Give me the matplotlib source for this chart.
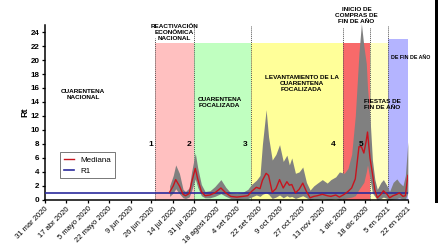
import matplotlib
matplotlib.use("Agg")
import matplotlib.pyplot as plt
import matplotlib.dates as mdates
import numpy as np
from datetime import datetime, timedelta
from matplotlib.patches import Rectangle

plt.rcParams['font.family'] = ['Liberation Sans', 'DejaVu Sans']

# ---- data ----
start = datetime(2020, 3, 31)
day_offsets = [102, 105, 107, 110, 113, 115, 118, 120, 123, 125, 128, 131, 135, 139, 144, 148,
               152, 157, 162, 166, 169, 173, 176, 178, 181, 183, 186, 189, 192, 195, 198, 200,
               202, 205, 208, 211, 214, 217, 220, 223, 227, 231, 234, 238, 241, 245, 248, 251,
               254, 257, 259, 261, 263, 264, 266, 268, 270, 272, 275, 277, 280, 282, 285, 288,
               290, 293, 295, 297]
mediana = [1.1, 2.0, 2.9, 2.0, 0.8, 0.6, 0.9, 2.5, 4.5, 3.0, 1.2, 0.6, 0.7, 1.0, 1.7, 1.0,
           0.5, 0.4, 0.5, 0.6, 1.2, 1.8, 1.6, 2.8, 3.8, 3.5, 1.1, 1.6, 2.9, 1.7, 2.6, 2.1,
           2.2, 1.0, 1.5, 2.4, 1.2, 0.3, 0.5, 0.6, 0.8, 0.6, 0.5, 0.7, 0.4, 0.8, 1.2, 1.7,
           3.0, 7.6, 7.6, 6.7, 8.5, 9.7, 6.0, 3.8, 1.4, 0.3, 0.8, 1.3, 0.8, 0.3, 0.6, 0.8,
           1.0, 0.5, 0.6, 3.5]
superior = [2.0, 3.5, 5.0, 3.8, 1.5, 1.2, 1.7, 4.0, 6.7, 4.6, 2.2, 1.2, 1.3, 1.9, 2.9, 1.8,
            1.0, 0.9, 1.1, 1.5, 2.2, 2.8, 3.5, 8.0, 12.9, 9.0, 5.7, 6.5, 7.9, 5.5, 6.4, 5.0,
            6.0, 3.8, 4.0, 4.7, 2.5, 1.4, 2.0, 2.4, 2.9, 2.4, 2.9, 3.3, 4.0, 3.8, 4.5, 6.5,
            12.0, 21.0, 25.2, 22.0, 19.5, 16.0, 11.9, 5.7, 2.9, 1.5, 2.5, 2.9, 2.0, 1.2, 2.5, 3.0,
            2.5, 2.0, 3.5, 8.3]
inferior = [0.5, 1.0, 1.6, 0.9, 0.3, 0.2, 0.4, 1.3, 3.0, 1.8, 0.6, 0.3, 0.3, 0.5, 0.9, 0.5,
            0.2, 0.1, 0.2, 0.2, 0.4, 0.7, 0.5, 0.8, 1.0, 0.8, 0.2, 0.4, 0.7, 0.3, 0.6, 0.4,
            0.5, 0.2, 0.4, 0.6, 0.3, 0.0, 0.1, 0.1, 0.2, 0.1, 0.1, 0.2, 0.0, 0.2, 0.3, 0.4,
            0.6, 1.5, 2.0, 2.5, 4.0, 5.0, 3.0, 1.0, 0.5, 0.0, 0.2, 0.4, 0.2, 0.0, 0.1, 0.2,
            0.3, 0.1, 0.1, 1.0]
r1_value = 1.0

tick_dates = ["2020-03-31", "2020-04-17", "2020-05-05", "2020-05-22", "2020-06-09", "2020-06-26",
              "2020-07-14", "2020-07-31", "2020-08-18", "2020-09-04", "2020-09-22", "2020-10-09",
              "2020-10-27", "2020-11-13", "2020-12-01", "2020-12-18", "2021-01-05", "2021-01-22"]
tick_labels = ["31 mar 2020", "17 abr 2020", "5 mayo 2020", "22 mayo 2020", "9 jun 2020",
               "26 jun 2020", "14 jul 2020", "31 jul 2020", "18 agost 2020", "4 set 2020",
               "22 set 2020", "9 oct 2020", "27 oct 2020", "13 nov 2020", "1 dic 2020",
               "18 dic 2020", "5 en 2021", "22 en 2021"]

# phases: (start, end, color, top)
phase_starts = ["2020-06-29", "2020-07-31", "2020-09-16", "2020-11-30", "2020-12-22", "2021-01-06"]
phase_ends = ["2020-07-31", "2020-09-16", "2020-11-30", "2020-12-22", "2021-01-06", "2021-01-22"]
phase_colors = ["#FFC0C0", "#C0FFC0", "#FFFF99", "#F86A6A", "#FFFFC0", "#B4B4FF"]
phase_tops = [22.4, 22.4, 22.4, 22.4, 22.4, 23.0]
vline_tops = [23.1, 24.9, 24.9, 24.7, 24.7, 24.9]

phase_texts = ["CUARENTENA\nNACIONAL", "REACTIVACIÓN\nECONÓMICA\nNACIONAL", "CUARENTENA\nFOCALIZADA",
               "LEVANTAMIENTO DE LA\nCUARENTENA\nFOCALIZADA", "INICIO DE\nCOMPRAS DE\nFIN DE AÑO",
               "FIESTAS DE\nFIN DE AÑO", "DE FIN DE AÑO"]
phase_text_x = ["2020-05-01", "2020-07-15", "2020-08-21", "2020-10-27", "2020-12-11", "2021-01-01", "2021-01-24"]
phase_text_y = [15.0, 24.0, 13.9, 16.7, 26.4, 13.6, 20.4]
phase_text_size = [4.6, 4.6, 4.6, 4.6, 4.6, 4.6, 3.8]

marker_nums = ["1", "2", "3", "4", "5"]
marker_x = ["2020-06-26", "2020-07-27", "2020-09-11", "2020-11-22", "2020-12-15"]
marker_y = [7.9, 7.9, 7.9, 7.9, 7.9]

# ---- plot ----
def d(s):
    return mdates.date2num(datetime.strptime(s, "%Y-%m-%d"))

x = [mdates.date2num(start + timedelta(days=o)) for o in day_offsets]

fig = plt.figure(figsize=(4.39, 2.48), dpi=100)
fig.patch.set_facecolor("white")
ax = fig.add_axes([0.1025, 0.194, 0.8265, 0.705])

for s, e, c, t in zip(phase_starts, phase_ends, phase_colors, phase_tops):
    ax.add_patch(Rectangle((d(s), 0), d(e) - d(s), t, facecolor=c, edgecolor="none", zorder=0))
for s, t in zip(phase_starts, vline_tops):
    ax.plot([d(s), d(s)], [0, t], color="#555555", lw=0.7, ls=(0, (1, 1)), zorder=1, clip_on=False)

ax.fill_between(x, inferior, superior, color="#808080", lw=0, zorder=2, clip_on=False)
ax.axhline(r1_value, color="#2b2b9c", lw=1.2, zorder=3, label="R1")
ax.plot(x, mediana, color="#c8141e", lw=1.0, zorder=4, label="Mediana")

for txt, tx, ty, fs in zip(phase_texts, phase_text_x, phase_text_y, phase_text_size):
    ax.text(d(tx), ty, txt, fontsize=fs, fontweight="bold", ha="center", va="center",
            linespacing=1.25, zorder=5, clip_on=False)
for n, tx, ty in zip(marker_nums, marker_x, marker_y):
    ax.text(d(tx), ty, n, fontsize=6, fontweight="bold", ha="center", va="center", zorder=5)

ax.set_xlim(d("2020-03-31"), d("2021-01-22"))
ax.set_ylim(0, 25)
ax.set_yticks(np.arange(0, 25, 2))
ax.set_xticks([d(t) for t in tick_dates])
ax.set_xticklabels(tick_labels, rotation=45, ha="right", rotation_mode="anchor", fontsize=5.5)
for lab in ax.get_yticklabels():
    lab.set_fontsize(5.8)
    lab.set_fontweight("bold")
ax.tick_params(axis="both", length=2.5, width=0.9, pad=1.5)
ax.set_ylabel("Rt", fontsize=6.5, fontweight="bold", labelpad=1)
for sp in ["top", "right"]:
    ax.spines[sp].set_visible(False)
for sp in ["left", "bottom"]:
    ax.spines[sp].set_linewidth(1.1)
ax.set_facecolor("white")

handles, labels = ax.get_legend_handles_labels()
leg = ax.legend(handles[::-1], labels[::-1], loc="upper left", bbox_to_anchor=(0.03, 0.295),
                fontsize=5.8, frameon=True, fancybox=False, edgecolor="#555555",
                handlelength=1.3, handletextpad=0.8, borderpad=0.45, labelspacing=0.45)
leg.get_frame().set_linewidth(0.7)
leg.set_zorder(6)

fig.patches.append(Rectangle((435 / 439, 0.18), 4 / 439, 0.82, transform=fig.transFigure,
                             facecolor="black", edgecolor="none"))

fig.savefig("out.png", dpi=100)
